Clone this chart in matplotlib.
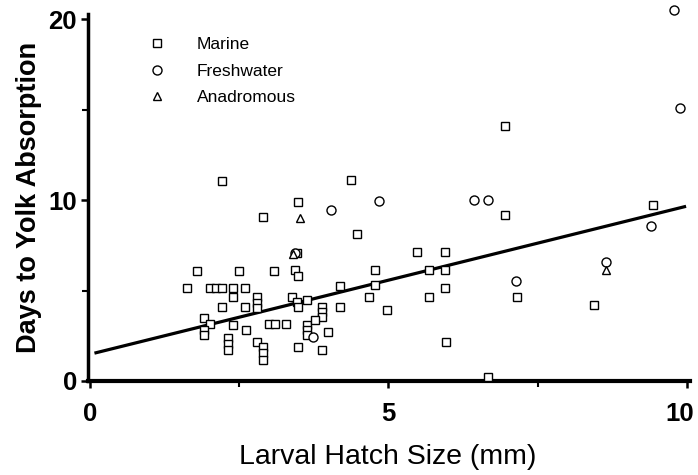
#!/usr/bin/env python3

import numpy as np
import matplotlib.pyplot as plt
import matplotlib.transforms as mtransforms

plt.rcParams.update({'font.family': ['Liberation Sans', 'DejaVu Sans']})

# Marine (squares)
marineX = [2.21, 2.90, 3.48, 4.37, 4.48, 3.46,
           1.80, 2.50, 3.09, 3.43, 3.48,
           1.62, 2.01, 2.11, 2.21, 2.40, 2.60,
           2.40, 2.79, 2.79, 2.79, 2.21, 2.60,
           3.38, 3.46, 3.49, 3.63,
           1.91, 2.01, 1.91, 1.91, 2.40, 2.61,
           3.00, 3.10, 3.29, 3.63, 3.63, 3.63,
           2.31, 2.31, 2.31, 2.79, 2.90, 2.90, 2.90, 3.49,
           3.88, 3.88, 3.88, 3.77, 3.98, 3.88,
           4.18, 4.18, 4.67, 4.77, 4.77, 4.97,
           5.47, 5.95, 5.68, 5.95, 5.68, 5.95, 5.97,
           6.67, 6.96, 6.96, 7.16, 8.44, 9.43]
marineY = [11.05, 9.08, 9.91, 11.1, 8.12, 7.05,
           6.09, 6.09, 6.09, 6.13, 5.80,
           5.12, 5.12, 5.12, 5.12, 5.12, 5.12,
           4.66, 4.66, 4.29, 4.02, 4.10, 4.10,
           4.66, 4.38, 4.10, 4.48,
           3.50, 3.13, 2.82, 2.54, 3.09, 2.82,
           3.13, 3.13, 3.13, 3.09, 2.82, 2.54,
           2.36, 2.03, 1.71, 2.14, 1.90, 1.53, 1.16, 1.90,
           4.10, 3.83, 3.55, 3.37, 2.72, 1.71,
           5.25, 4.10, 4.66, 6.13, 5.30, 3.92,
           7.14, 7.14, 6.13, 6.13, 4.66, 5.15, 2.17,
           0.24, 14.09, 9.15, 4.66, 4.20, 9.72]

# Freshwater (circles)
freshX = [4.04, 4.84, 6.43, 6.66, 3.43, 3.74, 7.14, 8.65, 9.40, 9.88, 9.78]
freshY = [9.45, 9.96, 10.0, 10.0, 7.05, 2.45, 5.54, 6.59, 8.58, 15.07, 20.5]

# Anadromous (triangles)
anadX = [3.52, 3.40, 8.65]
anadY = [9.02, 7.00, 6.13]

# regression line end points
lineX = [0.10, 9.96]
lineY = [1.56, 9.63]

fig = plt.figure(figsize=(6.98, 4.75), dpi=100)
ax = fig.add_axes([0.1264, 0.1979, 0.862, 0.7735])

mk = dict(linestyle='none', markerfacecolor='white', markeredgecolor='black',
          markeredgewidth=1.0, clip_on=False, zorder=3)
ax.plot(marineX, marineY, marker='s', markersize=5.8, label='Marine', **mk)
ax.plot(freshX, freshY, marker='o', markersize=6.5, label='Freshwater', **mk)
ax.plot(anadX, anadY, marker='^', markersize=5.5, label='Anadromous', **mk)
ax.plot(lineX, lineY, color='black', linewidth=2.3, zorder=2)

ax.set_xlim(-0.03, 10.05)
ax.set_ylim(0, 20.3)

ax.spines['top'].set_visible(False)
ax.spines['right'].set_visible(False)
ax.spines['left'].set_linewidth(2.5)
ax.spines['bottom'].set_linewidth(3.0)

ax.set_xticks([0, 5, 10])
ax.set_xticks([2.5, 7.5], minor=True)
ax.set_yticks([0, 10, 20])
ax.set_yticks([5, 15], minor=True)
ax.tick_params(which='major', direction='out', length=5, width=1.8,
               labelsize=18.5)
ax.tick_params(axis='x', which='major', pad=10)
ax.tick_params(axis='y', which='major', pad=3)
ax.tick_params(which='minor', direction='out', length=4, width=1.5)
for lab in ax.get_xticklabels() + ax.get_yticklabels():
    lab.set_fontweight('bold')

# nudge the last x label so it stays inside the figure
last = ax.get_xticklabels()[-1]
last.set_transform(last.get_transform() +
                   mtransforms.ScaledTranslation(-5 / 72, 0, fig.dpi_scale_trans))

ax.set_xlabel('Larval Hatch Size (mm)', fontsize=20.5)
ax.set_ylabel('Days to Yolk Absorption', fontsize=19.5, fontweight='bold')
ax.xaxis.set_label_coords(0.497, -0.172)
ax.yaxis.set_label_coords(-0.077, 0.5)

leg = ax.legend(loc='upper left', bbox_to_anchor=(0.074, 0.978), frameon=False,
                fontsize=12.5, handlelength=1.0, handletextpad=1.8,
                labelspacing=0.65, numpoints=1)

plt.savefig('out.png', dpi=100)
plt.close()
